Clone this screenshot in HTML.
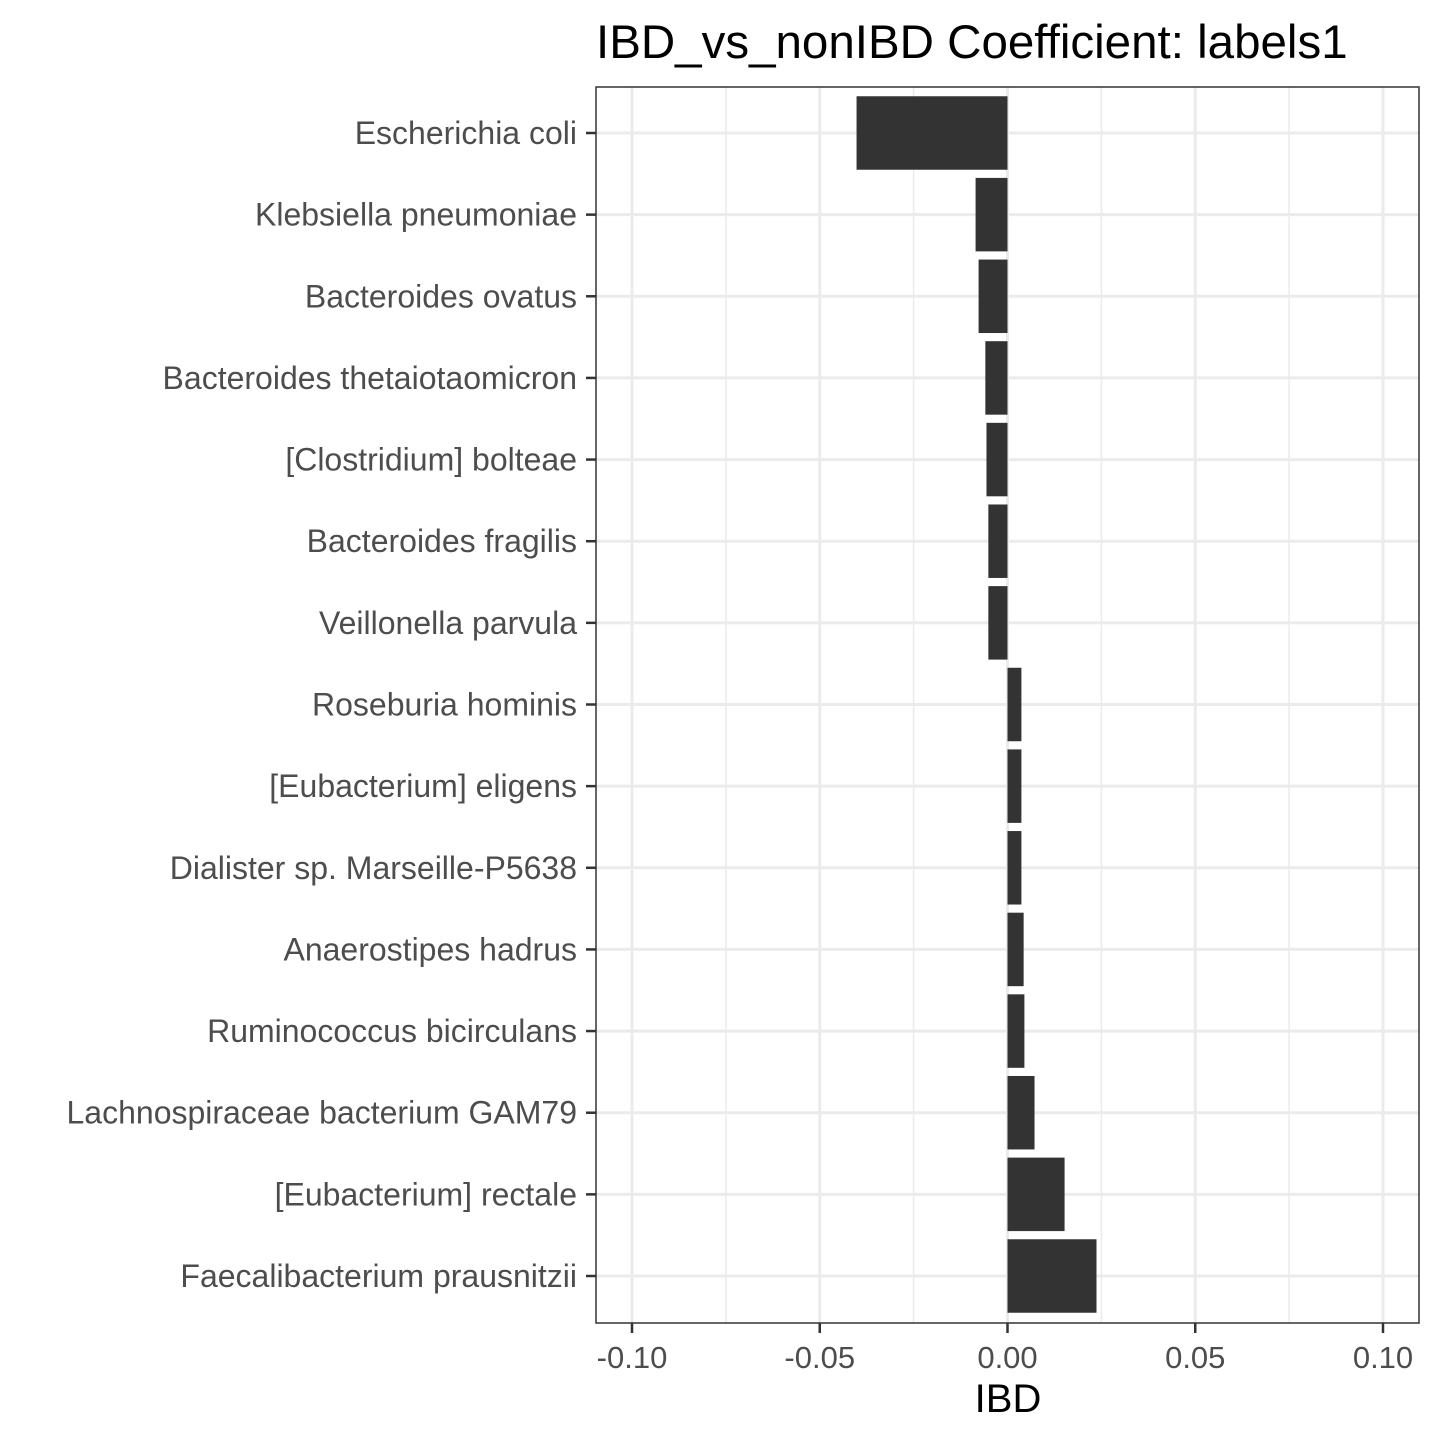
<!DOCTYPE html>
<html><head><meta charset="utf-8"><style>body{margin:0;background:#fff}svg{display:block}text{font-family:"Liberation Sans",Arial,sans-serif}</style></head>
<body>
<svg id="chart" width="1440" height="1440" viewBox="0 0 1440 1440" xmlns="http://www.w3.org/2000/svg">
<rect width="1440" height="1440" fill="#fff"/>
<text x="596" y="58" font-size="47.5" fill="#000">IBD_vs_nonIBD Coefficient: labels1</text>
<g id="grid"></g><g id="bars"></g><g id="axes"></g>
<rect x="596" y="87" width="823" height="1236" fill="none" stroke="#333" stroke-width="1.5"/>
<text x="1008" y="1412" font-size="40" text-anchor="middle" fill="#000">IBD</text>
</svg>
<script>
const categories=["Escherichia coli","Klebsiella pneumoniae","Bacteroides ovatus","Bacteroides thetaiotaomicron","[Clostridium] bolteae","Bacteroides fragilis","Veillonella parvula","Roseburia hominis","[Eubacterium] eligens","Dialister sp. Marseille-P5638","Anaerostipes hadrus","Ruminococcus bicirculans","Lachnospiraceae bacterium GAM79","[Eubacterium] rectale","Faecalibacterium prausnitzii"];
const values=[-0.0402,-0.0085,-0.0077,-0.0059,-0.0056,-0.0051,-0.0051,0.0037,0.0037,0.0037,0.0043,0.0045,0.0072,0.0152,0.0237];
const xTicks=[-0.10,-0.05,0,0.05,0.10];
const xTickLabels=["-0.10","-0.05","0.00","0.05","0.10"];
const xMinor=[-0.075,-0.025,0.025,0.075];
const NS="http://www.w3.org/2000/svg";
const x=v=>1007.5+v*3755;
const step=(1276-133)/14;
const y=i=>133+i*step;
const bh=step*0.9;
function mk(t,a,p){const e=document.createElementNS(NS,t);for(const k in a)e.setAttribute(k,a[k]);p.appendChild(e);return e;}
const grid=document.getElementById('grid'),bars=document.getElementById('bars'),axes=document.getElementById('axes');
xMinor.forEach(v=>{const l=mk('line',{x1:x(v),x2:x(v),y1:87,y2:1323,stroke:'#ebebeb','stroke-width':1.5},grid);

});
xTicks.forEach((v,i)=>{const l=mk('line',{x1:x(v),x2:x(v),y1:87,y2:1323,stroke:'#ebebeb','stroke-width':3},grid);


const t=mk('line',{x1:x(v),x2:x(v),y1:1323,y2:1333,stroke:'#333','stroke-width':2.5},axes);


const tx=mk('text',{x:x(v),y:1368,'font-size':31,'text-anchor':'middle',fill:'#4d4d4d'},axes);tx.textContent=xTickLabels[i];

});
categories.forEach((c,i)=>{const g=mk('line',{x1:596,x2:1419,y1:y(i),y2:y(i),stroke:'#ebebeb','stroke-width':3},grid);


const v=values[i];const r=mk('rect',{x:Math.min(x(0),x(v)),y:y(i)-bh/2,width:Math.abs(x(v)-x(0)),height:bh,fill:'#333'},bars);


const t=mk('line',{x1:586,x2:596,y1:y(i),y2:y(i),stroke:'#333','stroke-width':2.5},axes);


const tx=mk('text',{x:577,y:y(i)+11,'font-size':32,'text-anchor':'end',fill:'#4d4d4d'},axes);tx.textContent=c;

});
</script>
</body></html>
